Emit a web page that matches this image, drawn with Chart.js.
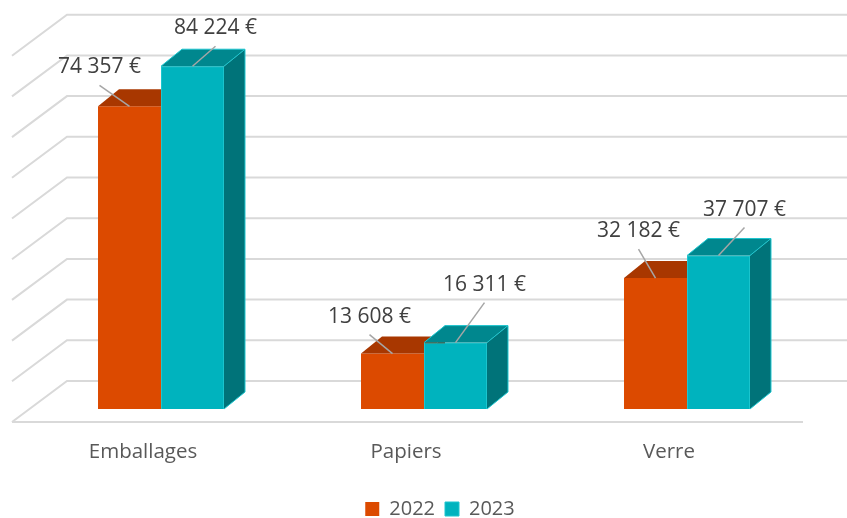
<!DOCTYPE html>
<html>
<head>
<meta charset="utf-8">
<script src="https://cdn.jsdelivr.net/npm/chart.js@4.4.1/dist/chart.umd.min.js"></script>
<style>
  html, body { margin: 0; padding: 0; background: #ffffff; }
  #wrap { width: 847px; height: 518px; }
</style>
</head>
<body>
<div id="wrap"><canvas id="chart"></canvas></div>
<script>
// Données
const categories = ['Emballages', 'Papiers', 'Verre'];
const seriesNames = ['2022', '2023'];
const valeurs2022 = [74357, 13608, 32182];
const valeurs2023 = [84224, 16311, 37707];

// Couleurs des faces (avant, dessus, côté)
const couleurs = [
  { front: '#DC4A00', top: '#A83700', side: '#8A2D00', border: '#DC4A00' },
  { front: '#00B3BE', top: '#00878E', side: '#007379', border: '#1CC6CF' }
];

// Décalage des étiquettes par rapport au haut de la barre
const decalages = [
  [[-30, -39], [-23, -37], [-17, -47]],
  [[23, -38], [29, -58], [26, -46]]
];

const PROF_X = 21, PROF_Y = 17;   // profondeur 3D
const MUR_Y = 28;                 // décalage du mur du fond
const FONT = "'Open Sans', 'Noto Sans', sans-serif";

function formatEuro(v) {
  return String(v).replace(/\B(?=(\d{3})+(?!\d))/g, ' ') + ' €';
}

// Quadrillage du fond en perspective
const grille3D = {
  id: 'grille3D',
  beforeDatasetsDraw(chart) {
    const ctx = chart.ctx;
    const y = chart.scales.y;
    ctx.save();
    ctx.strokeStyle = '#D9D9D9';
    ctx.lineWidth = 2;
    y.ticks.forEach(t => {
      if (t.value > 90000) return;
      const py = y.getPixelForValue(t.value) - MUR_Y;
      ctx.beginPath();
      ctx.moveTo(12, py + 41);
      ctx.lineTo(67, py);
      ctx.lineTo(chart.width + 20, py);
      ctx.stroke();
    });
    // bord avant du sol
    const sol = y.getPixelForValue(0) - MUR_Y + 41;
    ctx.beginPath();
    ctx.moveTo(12, sol);
    ctx.lineTo(803, sol);
    ctx.stroke();
    ctx.restore();
  }
};

function faces(ctx, bar, c, contour) {
  const w = bar.width;
  const l = bar.x - w / 2, r = bar.x + w / 2;
  const t = bar.y, b = bar.base;
  ctx.fillStyle = c.top;
  ctx.beginPath();
  ctx.moveTo(l, t);
  ctx.lineTo(l + PROF_X, t - PROF_Y);
  ctx.lineTo(r + PROF_X, t - PROF_Y);
  ctx.lineTo(r, t);
  ctx.closePath();
  ctx.fill();
  ctx.fillStyle = c.side;
  ctx.beginPath();
  ctx.moveTo(r, t);
  ctx.lineTo(r + PROF_X, t - PROF_Y);
  ctx.lineTo(r + PROF_X, b - PROF_Y);
  ctx.lineTo(r, b);
  ctx.closePath();
  ctx.fill();
  if (contour) {
    ctx.strokeStyle = c.border;
    ctx.lineWidth = 1;
    ctx.beginPath();
    ctx.moveTo(l, t);
    ctx.lineTo(l + PROF_X, t - PROF_Y);
    ctx.lineTo(r + PROF_X, t - PROF_Y);
    ctx.lineTo(r + PROF_X, b - PROF_Y);
    ctx.lineTo(r, b);
    ctx.moveTo(r, t);
    ctx.lineTo(r + PROF_X, t - PROF_Y);
    ctx.stroke();
  }
}

// Faces du dessus et du côté des barres + étiquettes
const barres3D = {
  id: 'barres3D',
  afterDatasetsDraw(chart) {
    const ctx = chart.ctx;
    const m0 = chart.getDatasetMeta(0);
    const m1 = chart.getDatasetMeta(1);
    ctx.save();
    categories.forEach((cat, j) => {
      faces(ctx, m0.data[j], couleurs[0], false);
      m1.data[j].draw(ctx);            // face avant 2023 par-dessus
      faces(ctx, m1.data[j], couleurs[1], true);
    });
    ctx.restore();

    ctx.save();
    ctx.font = '21px ' + FONT;
    ctx.textAlign = 'center';
    ctx.textBaseline = 'middle';
    chart.data.datasets.forEach((ds, i) => {
      chart.getDatasetMeta(i).data.forEach((bar, j) => {
        const [dx, dy] = decalages[i][j];
        const lx = bar.x + dx, ly = bar.y + dy;
        ctx.strokeStyle = '#A6A6A6';
        ctx.lineWidth = 1.5;
        ctx.beginPath();
        ctx.moveTo(lx, ly + 18);
        ctx.lineTo(bar.x, bar.y);
        ctx.stroke();
        ctx.fillStyle = '#404040';
        ctx.fillText(formatEuro(ds.data[j]), lx, ly);
      });
    });
    ctx.restore();
  },
  afterLayout(chart) {
    // léger recentrage de la légende
    const lg = chart.legend;
    lg.left += 16; lg.right += 16;
    lg.top += 11; lg.bottom += 11;
  }
};

const ctx = document.getElementById('chart').getContext('2d');
new Chart(ctx, {
  type: 'bar',
  data: {
    labels: categories,
    datasets: [
      {
        label: seriesNames[0],
        data: valeurs2022,
        backgroundColor: couleurs[0].front,
        borderColor: couleurs[0].border,
        borderWidth: 0
      },
      {
        label: seriesNames[1],
        data: valeurs2023,
        backgroundColor: couleurs[1].front,
        borderColor: couleurs[1].border,
        borderWidth: 1
      }
    ]
  },
  options: {
    responsive: true,
    maintainAspectRatio: false,
    animation: false,
    datasets: {
      bar: { barPercentage: 1, categoryPercentage: 0.479 }
    },
    layout: {
      padding: { left: 29.5, right: 28.5, top: 2, bottom: 0 }
    },
    plugins: {
      legend: {
        position: 'bottom',
        labels: {
          boxWidth: 14,
          boxHeight: 14,
          padding: 10,
          color: '#595959',
          font: { family: FONT, size: 20 }
        }
      },
      tooltip: { enabled: false }
    },
    scales: {
      x: {
        grid: { display: false, drawTicks: false },
        border: { display: false },
        ticks: {
          color: '#595959',
          font: { family: FONT, size: 20.5 },
          labelOffset: -18,
          padding: 31
        },
        afterFit(scale) { scale.height = 69; }
      },
      y: {
        display: false,
        min: 0,
        max: 100000,
        ticks: { stepSize: 10000 }
      }
    }
  },
  plugins: [grille3D, barres3D]
});
</script>
</body>
</html>
